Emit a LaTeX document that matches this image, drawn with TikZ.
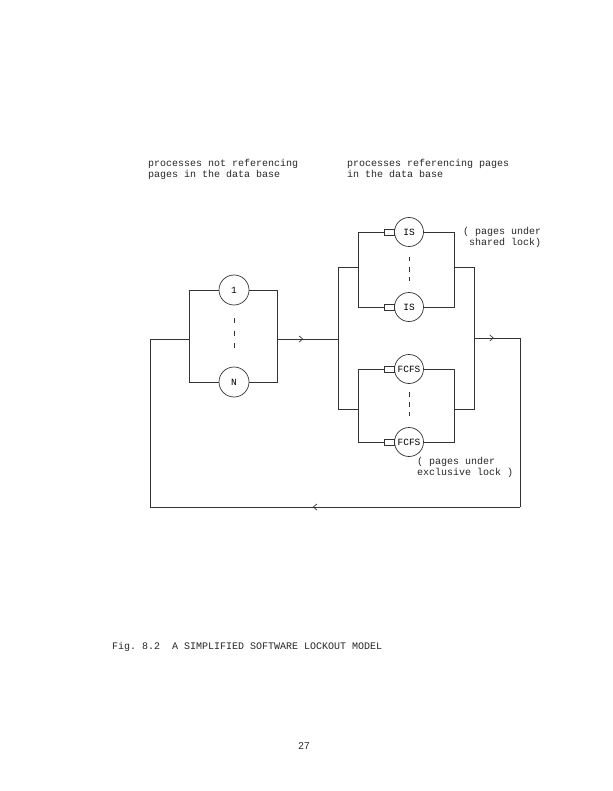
\documentclass[tikz,border=0pt]{standalone}
\usepackage{fontspec}
\setmonofont{Liberation Mono}
\setsansfont{Liberation Sans}
\usetikzlibrary{arrows.meta,decorations.markings}
\tikzset{
  ln/.style={draw=black!80, line width=0.7pt},
  srv/.style={circle, draw=black!80, line width=0.7pt, minimum size=29pt, inner sep=0pt, font=\ttfamily\fontsize{9.5}{10}\selectfont},
  que/.style={rectangle, draw=black!80, line width=0.6pt, minimum width=10pt, minimum height=6pt, inner sep=0pt, anchor=east},
  lbl/.style={font=\ttfamily\fontsize{10}{10.5}\selectfont, align=left, anchor=base west, inner sep=0pt, text=black!85},
  dots/.style={ln, dash pattern=on 4.5pt off 5.5pt},
  midarrow/.style={postaction={decorate, decoration={markings, mark=at position #1 with {\arrow{Straight Barb[length=3.5pt,width=6pt,line width=0.7pt]}}}}}
}
\begin{document}
\begin{tikzpicture}[x=1pt,y=-1pt]
\useasboundingbox (0,0) rectangle (612,791);
% headers (base anchor = last line's baseline)
\node[lbl] (h1) at (148,177.5) {processes not referencing\\pages in the data base};
\node[lbl] (h2) at (347,177.5) {processes referencing pages\\in the data base};
% left system
\node[srv, minimum size=30pt] (c1) at (234,290) {1};
\node[srv, minimum size=30pt] (cN) at (234,382) {N};
\draw[ln] (c1.west) -- (189,290) -- (189,382) -- (cN.west);
\draw[ln] (c1.east) -- (277,290) -- (277,382) -- (cN.east);
\coordinate (d1) at (234,318); \coordinate (d2) at (234,348);
\draw[ln, dash pattern=on 5pt off 7.5pt] (d1) -- (d2);
% right system servers
\node[srv] (is1) at (409,232) {IS};
\node[srv] (is2) at (409,307) {IS};
\node[srv] (f1) at (409,369) {FCFS};
\node[srv] (f2) at (409,442) {FCFS};
\node[que] (q1) at (is1.west) {};
\node[que] (q2) at (is2.west) {};
\node[que] (q3) at (f1.west) {};
\node[que] (q4) at (f2.west) {};
% upper group
\draw[ln] (q1.west) -- (358,232) -- (358,307) -- (q2.west);
\draw[ln] (is1.east) -- (454,232) -- (454,307) -- (is2.east);
\coordinate (u1) at (409,257); \coordinate (u2) at (409,281);
\draw[dots] (u1) -- (u2);
% lower group
\draw[ln] (q3.west) -- (358,369) -- (358,442) -- (q4.west);
\draw[ln] (f1.east) -- (454,369) -- (454,442) -- (f2.east);
\coordinate (l1) at (409,392); \coordinate (l2) at (409,416);
\draw[dots] (l1) -- (l2);
% outer parallel frame
\coordinate (UL) at (358,267); \coordinate (UR) at (454,267);
\coordinate (DL) at (358,409); \coordinate (DR) at (454,409);
\draw[ln] (UL) -- (338,267) -- (338,409) -- (DL);
\draw[ln] (UR) -- (474,267) -- (474,409) -- (DR);
% connectors
\coordinate (LR) at (277,339); \coordinate (OL) at (338,339);
\coordinate (LL) at (189,339); \coordinate (IN) at (150,339);
\coordinate (OR) at (474,338); \coordinate (RT) at (520,338);
\coordinate (RB) at (520,507); \coordinate (BL) at (150,507);
\draw[ln, midarrow=0.43] (LR) -- (OL);
\draw[ln, midarrow=0.43] (OR) -- (RT);
\draw[ln] (RT) -- (RB);
\draw[ln, midarrow=0.56] (RB) -- (BL);
\draw[ln] (BL) -- (IN) -- (LL);
% annotations
\node[lbl] (a1) at (463,245.5) {( pages under\\\ shared lock)};
\node[lbl] (a2) at (417,475) {( pages under\\exclusive lock )};
% caption
\node[lbl] (cap) at (112,649) {Fig. 8.2\ \ A SIMPLIFIED SOFTWARE LOCKOUT MODEL};
\node[font=\sffamily\fontsize{10}{12}\selectfont, anchor=base, inner sep=0pt, text=black!85] (pg) at (304,749) {27};
\end{tikzpicture}
\end{document}
